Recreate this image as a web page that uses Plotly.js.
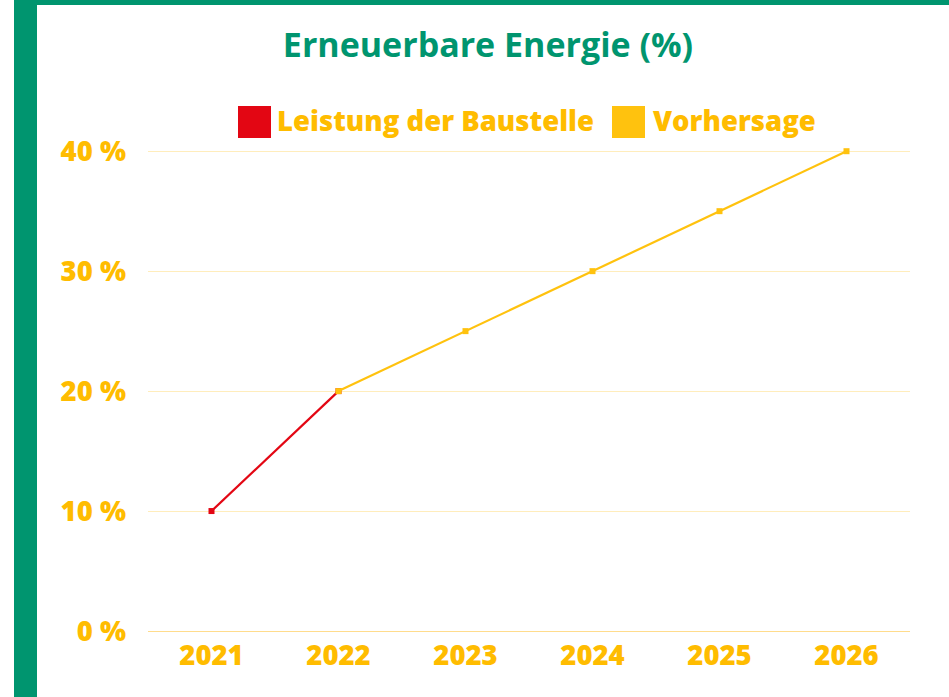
<!DOCTYPE html>
<html>
<head>
<meta charset="utf-8">
<script src="https://cdn.plot.ly/plotly-3.0.1.min.js"></script>
<style>
html,body{margin:0;padding:0;background:#fff;}
#chart{width:949px;height:697px;}
</style>
</head>
<body>
<div id="chart"></div>
<script>
const years = ['2021', '2022', '2023', '2024', '2025', '2026'];
const actual = [10, 20, null, null, null, null];
const forecast = [null, 20, 25, 30, 35, 40];
const yTicks = [0, 10, 20, 30, 40];
const yTickText = ['0 %', '10 %', '20 %', '30 %', '40 %'];
const seriesNames = ['Leistung der Baustelle', 'Vorhersage'];
const titleText = 'Erneuerbare Energie (%)';

const RED = '#E30613';
const YEL = '#FFC20E';
const ORANGE = '#FFBC00';
const GREEN = '#00956F';

const W = 949, H = 697;
const L = 148, R = 39, T = 150, B = 66;
const pw = W - L - R, ph = H - T - B;
const px = v => (v - L) / pw;
const py = v => (H - B - v) / ph;

const traces = [
  {x: years, y: actual, name: seriesNames[0], type: 'scatter', mode: 'lines+markers',
   line: {color: RED, width: 2.2}, marker: {symbol: 'square', size: 6, color: RED},
   connectgaps: false, cliponaxis: false, showlegend: false, hoverinfo: 'x+y'},
  {x: years, y: forecast, name: seriesNames[1], type: 'scatter', mode: 'lines+markers',
   line: {color: YEL, width: 2.2}, marker: {symbol: 'square', size: 6, color: YEL},
   connectgaps: false, cliponaxis: false, showlegend: false, hoverinfo: 'x+y'}
];

const shapes = [
  {type: 'rect', xref: 'paper', yref: 'paper', x0: px(14), x1: px(37), y0: py(697), y1: py(0),
   fillcolor: GREEN, line: {width: 0}, layer: 'above'},
  {type: 'rect', xref: 'paper', yref: 'paper', x0: px(14), x1: px(949), y0: py(5), y1: py(0),
   fillcolor: GREEN, line: {width: 0}, layer: 'above'},
  {type: 'rect', xref: 'paper', yref: 'paper', x0: px(238), x1: px(271), y0: py(138), y1: py(106),
   fillcolor: RED, line: {width: 0}},
  {type: 'rect', xref: 'paper', yref: 'paper', x0: px(612), x1: px(645), y0: py(138), y1: py(106),
   fillcolor: YEL, line: {width: 0}}
];

const legendFont = {family: '"Open Sans", sans-serif', size: 27.5, color: ORANGE, weight: 800};
const annotations = [
  {xref: 'paper', yref: 'paper', x: px(275), y: py(120), xanchor: 'left', yanchor: 'middle',
   text: seriesNames[0], showarrow: false, font: legendFont},
  {xref: 'paper', yref: 'paper', x: px(651), y: py(120), xanchor: 'left', yanchor: 'middle',
   text: seriesNames[1], showarrow: false, font: legendFont}
];

const tickFont = {family: '"Open Sans", sans-serif', size: 27.5, color: ORANGE, weight: 800};

const layout = {
  width: W, height: H,
  margin: {l: L, r: R, t: T, b: B, pad: 0},
  paper_bgcolor: '#ffffff', plot_bgcolor: '#ffffff',
  showlegend: false,
  title: {text: titleText, x: 488 / W, xref: 'container', xanchor: 'center',
          y: 1 - 45 / H, yref: 'container', yanchor: 'middle',
          font: {family: '"Open Sans", sans-serif', size: 34, color: GREEN, weight: 700}},
  xaxis: {type: 'category', range: [-0.5, 5.5], showgrid: false, zeroline: false,
          showline: true, linecolor: '#FFDC8C', linewidth: 1, ticks: '',
          tickfont: tickFont, ticklabelstandoff: 0, fixedrange: true},
  yaxis: {range: [0, 40.1], tickmode: 'array', tickvals: yTicks, ticktext: yTickText, showgrid: true,
          gridcolor: '#FFEDBC', gridwidth: 1, zeroline: false, showline: false, ticks: '',
          tickfont: tickFont, ticklabelstandoff: 21, fixedrange: true},
  shapes: shapes,
  annotations: annotations
};

Plotly.newPlot('chart', traces, layout, {displayModeBar: false, staticPlot: true});
</script>
</body>
</html>
